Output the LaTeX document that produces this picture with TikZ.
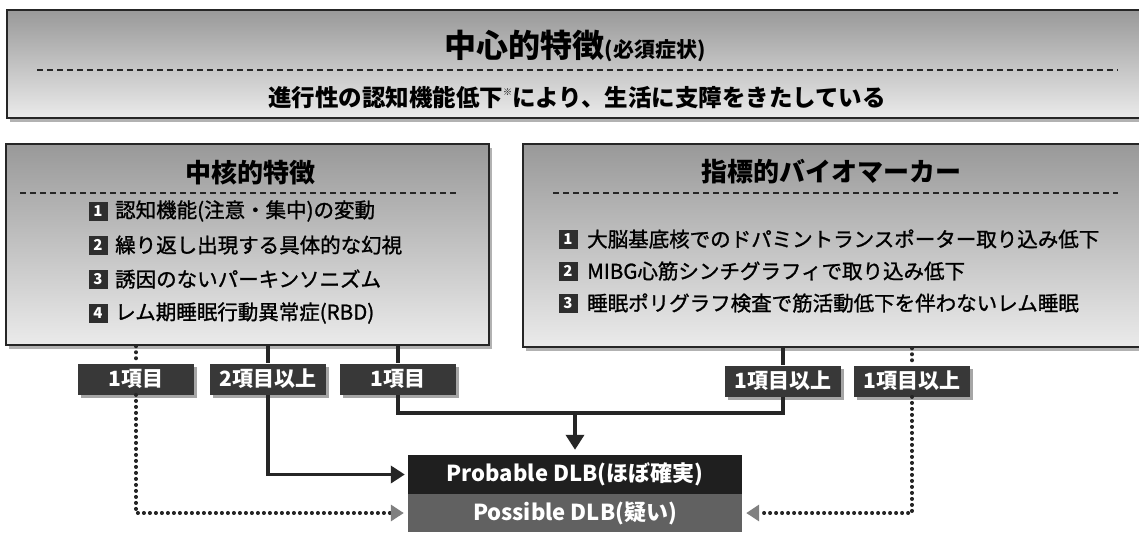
\documentclass[tikz,border=0pt]{standalone}
\usepackage{fontspec}
\setmainfont{Noto Sans CJK JP}
\newfontfamily\medfont[FakeBold=1.2]{Noto Sans CJK JP}
\usetikzlibrary{arrows.meta,shadows}

\tikzset{
  panel/.style={draw=black!85,line width=2pt,top color=black!40,bottom color=black!8,
    general shadow={fill=black!30,shadow xshift=3pt,shadow yshift=-4pt}},
  tag/.style={fill=black!78,text=white,font=\bfseries\fontsize{21}{22}\selectfont,
    minimum width=116pt,minimum height=31pt,inner sep=0pt,
    general shadow={fill=black!35,shadow xshift=3pt,shadow yshift=-3pt}},
  num/.style={fill=black!82,text=white,font=\bfseries\fontsize{15}{15}\selectfont,
    minimum size=19pt,inner sep=0pt},
  item/.style={anchor=west,inner sep=0pt,font=\medfont\fontsize{20.5}{22}\selectfont},
  head/.style={inner sep=0pt,font=\bfseries\fontsize{26}{28}\selectfont},
  result/.style={text=white,font=\bfseries\fontsize{22}{23}\selectfont,
    minimum width=334pt,inner sep=0pt},
  conn/.style={line width=3.5pt,black!85},
  dots/.style={line width=3.5pt,black!85,line cap=round,dash pattern=on 0.5pt off 5.5pt},
  sep/.style={black!85,line width=1.3pt,dash pattern=on 6pt off 4pt},
}

\begin{document}
\begin{tikzpicture}[x=1pt,y=-1pt]
  \useasboundingbox[fill=white](0,0)rectangle(1139,541);
  \node[panel,minimum width=1138pt,minimum height=108pt](core)at(576,64){};
  \node[panel,minimum width=483pt,minimum height=201pt](kernel)at(247.5,244.5){};
  \node[panel,minimum width=622pt,minimum height=203pt](marker)at(834,245.5){};
  \draw[sep](37,70)--(1118,70);
  \draw[sep](20,193)--(459,193);
  \draw[sep](553,193)--(1118,193);
  \node[inner sep=0pt](coretitle)at(575,46){\bfseries\fontsize{32}{32}\selectfont 中心的特徴\fontsize{21}{21}\selectfont(必須症状)};
  \node[inner sep=0pt](coretext)at(577,98){\bfseries\fontsize{23.5}{24}\selectfont 進行性の認知機能低下\raisebox{0.5em}{\fontsize{9}{9}\selectfont ※}により、生活に支障をきたしている};
  \node[head](kerneltitle)at(250,173){中核的特徴};
  \node[head](markertitle)at(831,172){指標的バイオマーカー};
  \node[num](k1)at(98,211){1};
  \node[item](kt1)at(115,211){認知機能(注意・集中)の変動};
  \node[num](k2)at(98,245){2};
  \node[item](kt2)at(115,245){繰り返し出現する具体的な幻視};
  \node[num](k3)at(98,279){3};
  \node[item](kt3)at(115,279){誘因のないパーキンソニズム};
  \node[num](k4)at(98,313){4};
  \node[item](kt4)at(115,313){レム期睡眠行動異常症(RBD)};
  \node[num](m1)at(568,239){1};
  \node[item](mt1)at(587,239){大脳基底核でのドパミントランスポーター取り込み低下};
  \node[num](m2)at(568,271){2};
  \node[item](mt2)at(587,271){MIBG心筋シンチグラフィで取り込み低下};
  \node[num](m3)at(568,303){3};
  \node[item](mt3)at(587,303){睡眠ポリグラフ検査で筋活動低下を伴わないレム睡眠};
  \node[tag](n1)at(136,379){1項目};
  \node[tag](n2)at(268,379){2項目以上};
  \node[tag](n3)at(398,379){1項目};
  \node[tag](n4)at(783,381){1項目以上};
  \node[tag](n5)at(912,381){1項目以上};
  \node[result,fill=black!88,minimum height=39pt](prob)at(575,474.5){Probable DLB(ほぼ確実)};
  \node[result,fill=black!62,minimum height=38pt](poss)at(575,513){Possible DLB(疑い)};
  \coordinate(join)at(575,413);
  \draw[dots](kernel.south-|n1)--(n1.north);
  \draw[conn](kernel.south-|n2)--(n2.north);
  \draw[conn](kernel.south-|n3)--(n3.north);
  \draw[conn](marker.south-|n4)--(n4.north);
  \draw[dots](marker.south-|n5)--(n5.north);
  \draw[conn](n3.south)|-(join)-|(n4.south);
  \draw[conn,-{Triangle[length=15pt,width=18pt]},shorten >=5pt](join)--(prob.north);
  \draw[conn,-{Triangle[length=14pt,width=17pt]},shorten >=3pt](n2.south)|-(prob.west);
  \draw[dots,-{Triangle[length=13pt,width=16pt,color=black!50]},shorten >=4pt](n1.south)|-(poss.west);
  \draw[dots,-{Triangle[length=13pt,width=16pt,color=black!50]},shorten >=4pt](n5.south)|-(poss.east);
\end{tikzpicture}
\end{document}
